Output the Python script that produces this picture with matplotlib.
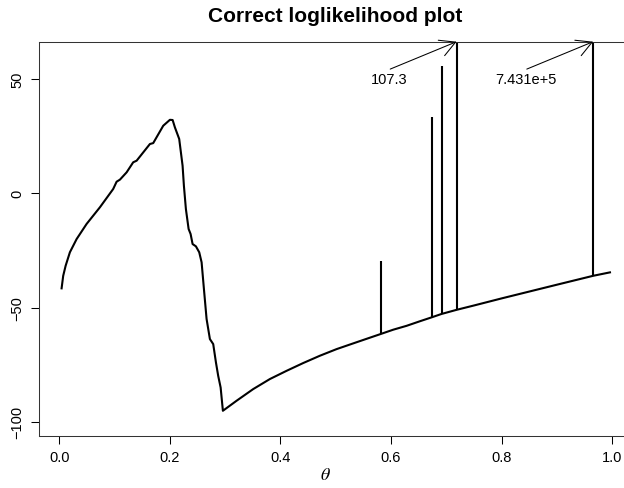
#!/usr/bin/env python3
# loglik_plot.py

import matplotlib
matplotlib.use("Agg")
import matplotlib.pyplot as plt

plt.rcParams["font.family"] = ["Liberation Sans", "DejaVu Sans"]
plt.rcParams["mathtext.fontset"] = "stix"

# loglikelihood curve
theta = [0.0043, 0.0072, 0.0116, 0.0193, 0.0315, 0.0495, 0.0736, 0.0976,
         0.1038, 0.1098, 0.1219, 0.1338, 0.1400, 0.1640, 0.1700, 0.1881,
         0.2002, 0.2051, 0.2092, 0.2170, 0.2231, 0.2255, 0.2291, 0.2340,
         0.2376, 0.2412, 0.2472, 0.2532, 0.2575, 0.2617, 0.2665, 0.2725,
         0.2785, 0.2834, 0.2875, 0.2919, 0.2960, 0.3208, 0.3508, 0.3810,
         0.4112, 0.4412, 0.4714, 0.5016, 0.5316, 0.5618, 0.5812, 0.6040,
         0.6282, 0.6523, 0.6734, 0.6915, 0.7186, 0.75, 0.80, 0.85, 0.90,
         0.9656, 0.996]
loglik = [-41.6, -36.1, -31.7, -25.8, -20.0, -13.4, -6.1, 1.9,
          5.1, 6.0, 9.2, 13.6, 14.3, 21.6, 22.0, 29.6,
          32.2, 32.1, 28.9, 23.8, 12.1, 3.3, -6.9, -15.6,
          -17.8, -22.2, -23.2, -25.8, -30.2, -41.9, -55.0, -63.8,
          -66.0, -74.0, -79.9, -85.0, -95.2, -90.8, -85.7, -81.3,
          -77.7, -74.3, -71.1, -68.2, -65.7, -63.2, -61.6, -59.7,
          -58.0, -56.0, -54.3, -52.8, -51.0, -49.1, -46.0, -43.0, -40.0,
          -36.1, -34.6]

# spikes: position, base on curve, top value
spike_x = [0.5812, 0.6734, 0.6915, 0.7186, 0.9656]
spike_base = [-61.6, -54.3, -52.8, -51.0, -36.1]
spike_top = [-29.5, 33.3, 55.9, 107.3, 743100.0]
spike_labels = ["", "", "", "107.3", "7.431e+5"]

xlim = (-0.036, 1.04)
ylim = (-106.1, 66.4)


def plot(ax):
    ax.plot(theta, loglik, color="black", linewidth=1.5, solid_joinstyle="round")
    ax.vlines(spike_x, spike_base, spike_top, color="black", linewidth=1.5)

    # arrows to the spikes that run off the top of the plot
    for x, top, lab in zip(spike_x, spike_top, spike_labels):
        if top <= ylim[1]:
            continue
        ax.annotate("", xy=(x, ylim[1]), xytext=(x - 0.12, 54.4),
                    annotation_clip=False,
                    arrowprops=dict(arrowstyle="->,head_length=0.55,head_width=0.3",
                                    color="black", linewidth=0.75,
                                    shrinkA=0, shrinkB=0, mutation_scale=20))
        ax.text(x - 0.121, 50.0, lab, ha="center", va="center", fontsize=10.5)

    ax.set_xlim(*xlim)
    ax.set_ylim(*ylim)
    ax.set_xticks([0.0, 0.2, 0.4, 0.6, 0.8, 1.0])
    ax.set_xticklabels(["0.0", "0.2", "0.4", "0.6", "0.8", "1.0"])
    ax.set_yticks([-100, -50, 0, 50])
    ax.set_yticklabels(["\u2212100", "\u221250", "0", "50"], rotation=90, va="center")
    ax.tick_params(direction="out", length=5.5, width=0.75, labelsize=10.5, pad=5)
    for s in ax.spines.values():
        s.set_linewidth(0.75)
        s.set_color("#333333")


def main():
    fig = plt.figure(figsize=(6.24, 4.89), dpi=100)
    ax = fig.add_axes([0.063, 0.107, 0.9535, 0.8057])
    plot(ax)
    fig.text(0.537, 0.966, "Correct loglikelihood plot", ha="center", va="center",
             fontsize=15, fontweight="bold")
    fig.text(0.5216, 0.0266, r"$\theta$", ha="center", va="center", fontsize=13)
    fig.savefig("out.png", dpi=100)


if __name__ == "__main__":
    main()
